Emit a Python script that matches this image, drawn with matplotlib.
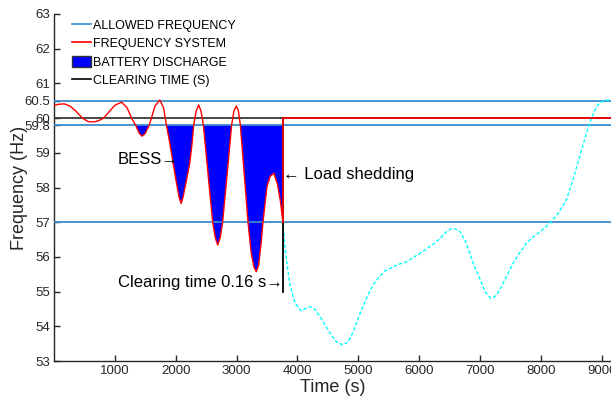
import matplotlib
matplotlib.use("Agg")
import matplotlib.pyplot as plt
from matplotlib.lines import Line2D
from matplotlib.patches import Patch
import numpy as np

plt.rcParams['font.family'] = ['Liberation Sans', 'DejaVu Sans']

# ---- data ----
red_t = [0, 80, 170, 260, 360, 465, 560, 656, 740, 815, 900, 1000, 1110, 1200, 1274,
         1340, 1400, 1449, 1500, 1564, 1600, 1660, 1738, 1800, 1847, 1900, 1957, 2010,
         2055, 2088, 2120, 2175, 2230, 2270, 2295, 2335, 2377, 2415, 2454, 2530, 2607,
         2650, 2689, 2730, 2770, 2845, 2918, 2955, 2995, 3030, 3061, 3125, 3187, 3240,
         3285, 3323, 3360, 3400, 3433, 3498, 3550, 3613, 3670, 3720, 3760]
red_f = [60.36, 60.40, 60.41, 60.35, 60.20, 60.00, 59.90, 59.89, 59.93, 60.00, 60.17,
         60.37, 60.46, 60.30, 60.00, 59.80, 59.56, 59.48, 59.56, 59.80, 60.00, 60.35,
         60.52, 60.30, 59.80, 59.30, 58.70, 58.15, 57.72, 57.54, 57.72, 58.20, 58.70,
         59.30, 59.80, 60.20, 60.38, 60.20, 59.80, 58.40, 57.00, 56.55, 56.34, 56.55,
         57.00, 58.40, 59.80, 60.20, 60.35, 60.20, 59.80, 58.40, 57.00, 56.10, 55.70,
         55.57, 55.75, 56.35, 57.00, 58.02, 58.32, 58.41, 58.10, 57.60, 57.00]

cyan_t = [3760, 3798, 3870, 3962, 4056, 4140, 4208, 4290, 4372, 4450, 4536, 4640, 4744,
          4830, 4918, 5000, 5082, 5170, 5246, 5356, 5440, 5520, 5650, 5793, 5900, 6011,
          6150, 6285, 6449, 6530, 6600, 6667, 6749, 6831, 6910, 6995, 7080, 7170, 7240,
          7323, 7432, 7541, 7650, 7760, 7850, 7951, 8050, 8142, 8280, 8416, 8530, 8634,
          8720, 8798, 8870, 8934, 9010, 9098, 9150]
cyan_f = [57.00, 56.20, 55.24, 54.66, 54.45, 54.52, 54.57, 54.48, 54.28, 54.05, 53.80,
          53.55, 53.46, 53.55, 53.85, 54.25, 54.60, 54.95, 55.20, 55.45, 55.60, 55.67,
          55.78, 55.86, 55.98, 56.10, 56.27, 56.44, 56.73, 56.82, 56.80, 56.73, 56.49,
          56.10, 55.70, 55.38, 55.00, 54.81, 54.85, 55.05, 55.43, 55.82, 56.12, 56.39,
          56.55, 56.68, 56.82, 56.97, 57.25, 57.64, 58.25, 58.89, 59.40, 59.85, 60.18,
          60.38, 60.48, 60.52, 60.52]

allowed_levels = [60.5, 59.8, 57.0]
nominal = 60.0
discharge_threshold = 59.8
clearing_t = 3760
clearing_bottom = 55.0
y_ticks = [53, 54, 55, 56, 57, 58, 59, 59.8, 60, 60.5, 61, 62, 63]
y_ticklabels = ['53', '54', '55', '56', '57', '58', '59', '59.8', '60', '60.5', '61', '62', '63']
x_ticks = [1000, 2000, 3000, 4000, 5000, 6000, 7000, 8000, 9000]
x_max = 9150
legend_labels = ['ALLOWED FREQUENCY', 'FREQUENCY SYSTEM', 'BATTERY DISCHARGE', 'CLEARING TIME (S)']

# ---- figure ----
fig = plt.figure(figsize=(6.11, 4.03), dpi=100)
ax = fig.add_axes([54/611, 42/403, 557/611, 347/403])

blue_line = '#3a8ccc'
t = np.array(red_t, dtype=float)
f = np.array(red_f, dtype=float)

ax.fill_between(t, f, discharge_threshold, where=f <= discharge_threshold,
                interpolate=True, color='#0000ff', linewidth=0, zorder=2)

for lv in allowed_levels:
    ax.axhline(lv, color=blue_line, lw=1.3, zorder=3)
ax.axhline(nominal, color='#3a3a3a', lw=1.3, zorder=3)

ax.plot(cyan_t, cyan_f, color='cyan', lw=1.0, dashes=(2.5, 1.5), zorder=4)
ax.plot([clearing_t, clearing_t], [clearing_bottom, nominal], color='black', lw=1.3, zorder=4)
ax.plot(t, f, color='red', lw=1.0, zorder=5)
ax.plot([clearing_t, clearing_t, x_max], [red_f[-1], nominal, nominal], color='red', lw=1.2, zorder=5)

ax.set_xlim(0, x_max)
ax.set_ylim(53, 63)
ax.set_xticks(x_ticks)
ax.set_xticklabels([str(v) for v in x_ticks])
ax.set_yticks(y_ticks)
ax.set_yticklabels(y_ticklabels)
ax.tick_params(direction='in', length=4, width=1, colors='#262626', labelsize=9.5, pad=3)
for s in ['top', 'right']:
    ax.spines[s].set_visible(False)
for s in ['left', 'bottom']:
    ax.spines[s].set_color('#262626')
    ax.spines[s].set_linewidth(1.0)

ax.set_xlabel('Time (s)', fontsize=13, color='#262626', labelpad=1)
ax.set_ylabel('Frequency (Hz)', fontsize=13, color='#262626')
ax.yaxis.set_label_coords(-0.047, 0.5)

ax.text(2050, 58.8, 'BESS\u2192', fontsize=12, ha='right', va='center', color='black', zorder=6)
ax.text(3765, 58.37, '\u2190 Load shedding', fontsize=12, ha='left', va='center', color='black', zorder=6)
ax.text(3760, 55.25, 'Clearing time 0.16 s\u2192', fontsize=12, ha='right', va='center', color='black', zorder=6)

handles = [Line2D([0], [0], color=blue_line, lw=1.2),
           Line2D([0], [0], color='red', lw=1.2),
           Patch(facecolor='#0000ff', edgecolor='#333333'),
           Line2D([0], [0], color='black', lw=1.2)]
leg = ax.legend(handles, legend_labels, loc='upper left', bbox_to_anchor=(72/611, 1 - 19/403),
                bbox_transform=fig.transFigure, frameon=False, fontsize=9,
                handlelength=1.55, handleheight=1.0, handletextpad=0.12, labelspacing=0.44,
                borderpad=0, borderaxespad=0)

fig.savefig('out.png', dpi=100)
